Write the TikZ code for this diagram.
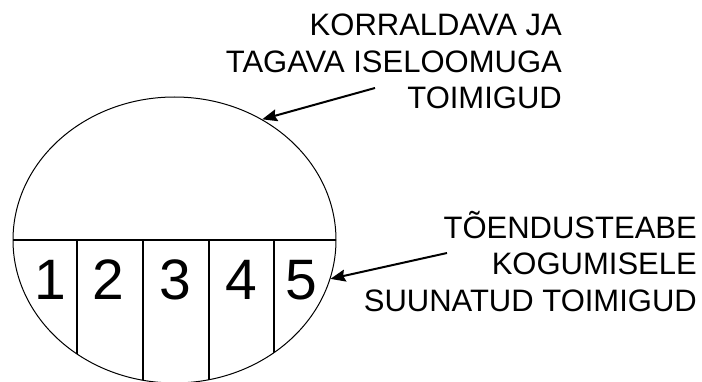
\documentclass[tikz,border=0pt]{standalone}
\usepackage{fontspec}
\setmainfont{Liberation Sans}
\usetikzlibrary{positioning,calc,shapes.geometric,arrows.meta}

\tikzset{
  lbl/.style={align=right,inner sep=0pt,font=\fontsize{31}{36.5}\selectfont},
  digit/.style={inner sep=0pt,font=\fontsize{57}{60}\selectfont},
  pointer/.style={line width=2pt,-{Stealth[length=15pt,width=12pt,inset=2pt]}},
}

\begin{document}
\begin{tikzpicture}[x=1pt,y=-1pt]
	\useasboundingbox (0,0) rectangle (702,382);
	\clip (0,0) rectangle (702,382);

	\node[shape=ellipse,draw=black,line width=1pt,minimum width=323pt,minimum height=286pt,inner sep=0pt] (oval) at (174.5,240) {};

	% cells
	\begin{scope}
		\clip (174.5,240) ellipse [x radius=161.5pt,y radius=143pt];
		\draw[line width=1.3pt] (oval.west) -- (oval.east);
		\foreach \x in {77,143,209,274}
			\draw[line width=1.3pt] (\x,240) -- (\x,400);
	\end{scope}

	\node[digit] (d1) at (50,280) {1};
	\node[digit] (d2) at (108,280) {2};
	\node[digit] (d3) at (175,280) {3};
	\node[digit] (d4) at (241,280) {4};
	\node[digit] (d5) at (301,280) {5};

	\node[lbl,anchor=north east] (upper) at (562,14) {KORRALDAVA JA\\TAGAVA ISELOOMUGA\\TOIMIGUD};
	\node[lbl,anchor=north east] (lower) at (697,211) {TÕENDUSTEABE\\KOGUMISELE\\SUUNATUD TOIMIGUD};

	\coordinate (upperfrom) at (375,88);
	\coordinate (lowerfrom) at (447,253);
	\draw[pointer] (upperfrom) -- (oval.54);
	\draw[pointer] (lowerfrom) -- (oval.-14.7);
\end{tikzpicture}
\end{document}
